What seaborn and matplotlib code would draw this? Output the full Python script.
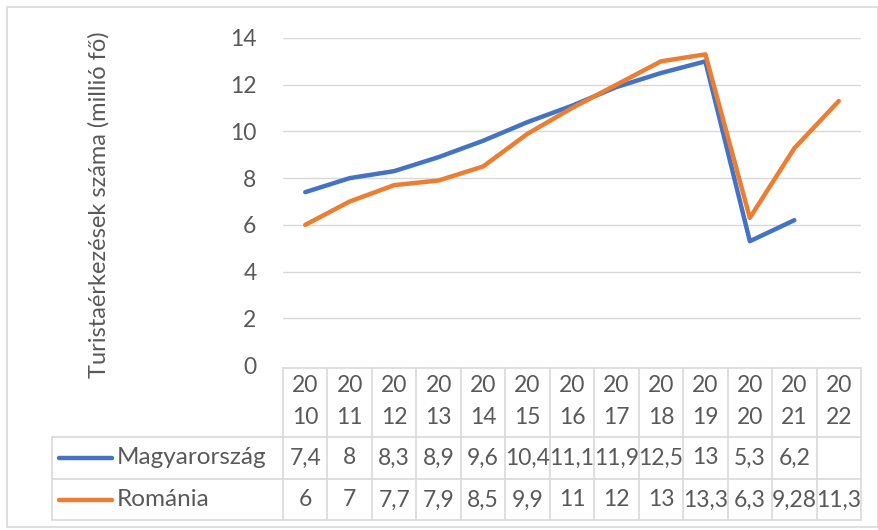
import numpy as np
import pandas as pd
import seaborn as sns
import matplotlib
matplotlib.use("Agg")
import matplotlib.pyplot as plt
import matplotlib.transforms as mtransforms
from matplotlib.lines import Line2D
from matplotlib.patches import Rectangle

# ---- data ----
years = ["2010", "2011", "2012", "2013", "2014", "2015", "2016",
         "2017", "2018", "2019", "2020", "2021", "2022"]
magyarorszag = [7.4, 8, 8.3, 8.9, 9.6, 10.4, 11.1, 11.9, 12.5, 13, 5.3, 6.2, np.nan]
romania = [6, 7, 7.7, 7.9, 8.5, 9.9, 11, 12, 13, 13.3, 6.3, 9.28, 11.3]
series_names = ["Magyarország", "Románia"]
y_label = "Turistaérkezések száma (millió fő)"
y_ticks = [0, 2, 4, 6, 8, 10, 12, 14]

colors = {"Magyarország": "#4472C4", "Románia": "#ED7D31"}
text_color = "#595959"
grid_color = "#D9D9D9"

sns.set_theme(style="white")
plt.rcParams["font.family"] = ["Lato", "DejaVu Sans"]

W, H = 879, 530
fig = plt.figure(figsize=(W / 100, H / 100), dpi=100)

# overlay in pixel coordinates (for table & border)
ov = fig.add_axes([0, 0, 1, 1])
ov.set_xlim(0, W)
ov.set_ylim(H, 0)
ov.axis("off")
ov.patch.set_alpha(0)

# main plot area
left_px, right_px, top_px, zero_px = 283, 861, 38, 365
ax = fig.add_axes([left_px / W, 1 - zero_px / H,
                   (right_px - left_px) / W, (zero_px - top_px) / H])

idx = np.arange(len(years))
df = pd.DataFrame({
    "idx": np.concatenate([idx, idx]),
    "value": magyarorszag + romania,
    "series": [series_names[0]] * len(years) + [series_names[1]] * len(years),
})
sns.lineplot(data=df, x="idx", y="value", hue="series", palette=colors,
             linewidth=3.2, ax=ax, legend=False)

fs = 16.5
ax.set_xlim(-0.5, len(years) - 0.5)
ax.set_ylim(0, 14)
ax.set_yticks(y_ticks)
ax.set_yticklabels([str(t) for t in y_ticks])
ax.set_xticks([])
ax.set_xlabel("")
ax.set_ylabel(y_label, fontsize=17, color=text_color)
ax.yaxis.set_label_coords((110 - left_px) / (right_px - left_px), 0.49)
ax.tick_params(axis="y", length=0, pad=19, labelsize=fs, labelcolor=text_color)
for s in ax.spines.values():
    s.set_visible(False)
for t in y_ticks[1:]:
    ax.axhline(t, color=grid_color, lw=1.0, zorder=0)
ax.patch.set_alpha(0)

# ---- data table ----
tr = mtransforms.blended_transform_factory(ax.transData, ov.transData)
head_top, head_bot, row1_bot, row2_bot = 368, 437, 479, 520
legend_left = 52

# horizontal lines
ov.plot([left_px, right_px], [head_top, head_top], color=grid_color, lw=1.2)
for yy in (head_bot, row1_bot, row2_bot):
    ov.plot([legend_left, right_px], [yy, yy], color=grid_color, lw=1.2)
# vertical lines
for i in range(len(years) + 1):
    ax_x = i - 0.5
    ov.add_line(Line2D([ax_x, ax_x], [head_top, row2_bot], color=grid_color,
                       lw=1.2, transform=tr))
ov.plot([legend_left, legend_left], [head_bot, row2_bot], color=grid_color, lw=1.2)

# header text
for i, yr in enumerate(years):
    ov.text(i, 385, yr[:2], transform=tr, ha="center", va="center",
            fontsize=fs, color=text_color)
    ov.text(i, 417, yr[2:], transform=tr, ha="center", va="center",
            fontsize=fs, color=text_color)


def fmt(v):
    if v is None or (isinstance(v, float) and np.isnan(v)):
        return ""
    return f"{v:g}".replace(".", ",")


rows = [(series_names[0], magyarorszag, 458),
        (series_names[1], romania, 500)]
for name, vals, yc in rows:
    ov.plot([59, 112], [yc, yc], color=colors[name], lw=3.2,
            solid_capstyle="round")
    ov.text(117, yc, name, ha="left", va="center", fontsize=17.5, color=text_color)
    for i, v in enumerate(vals):
        ov.text(i, yc, fmt(v), transform=tr, ha="center", va="center",
                fontsize=fs, color=text_color)

# chart border
ov.add_patch(Rectangle((7, 7), W - 8, H - 10, fill=False, ec=grid_color, lw=1.2))

fig.savefig("out.png", dpi=100)
